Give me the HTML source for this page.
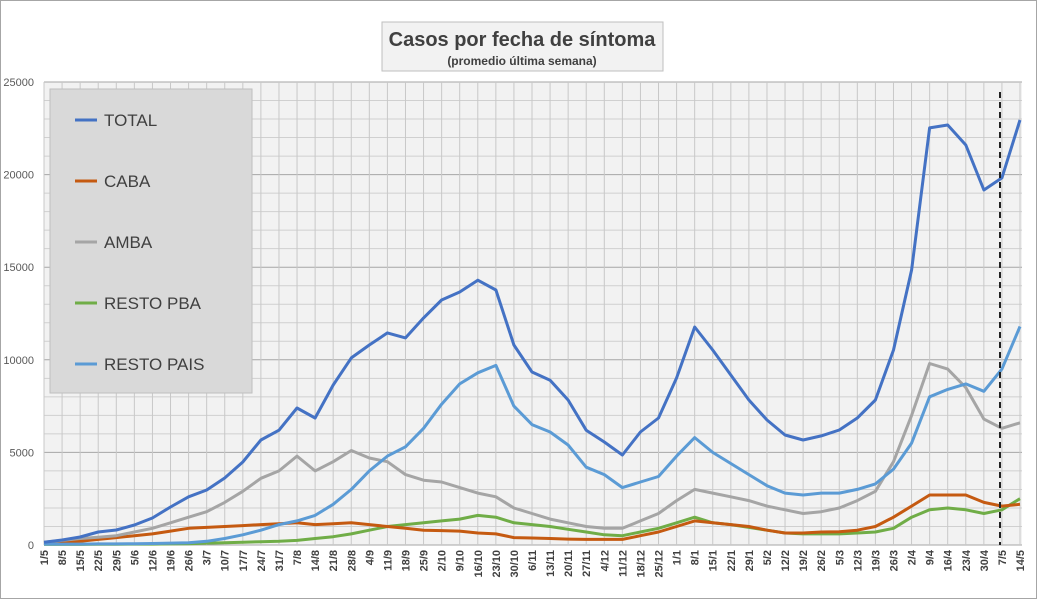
<!DOCTYPE html>
<html><head><meta charset="utf-8"><style>
body{margin:0;background:#fff;font-family:"Liberation Sans",sans-serif}
#wrap{position:relative;width:1037px;height:599px}
</style></head><body>
<div id="wrap">
<svg id="svg" width="1037" height="599" xmlns="http://www.w3.org/2000/svg">
<rect x="0.5" y="0.5" width="1036" height="598" fill="#fff" stroke="#a6a6a6"/>
<rect x="44" y="82" width="978" height="463" fill="#f2f2f2"/>
<g id="grid"></g><g id="axes"></g><g id="series"></g>
<line x1="1000" y1="92" x2="1000" y2="545" stroke="#222" stroke-width="2" stroke-dasharray="6,4"/>
<g>
<rect x="382" y="22" width="281" height="49" fill="#f2f2f2" stroke="#bfbfbf"/>
<text x="522" y="46" text-anchor="middle" font-size="20" font-weight="bold" fill="#404040">Casos por fecha de síntoma</text>
<text x="522" y="65" text-anchor="middle" font-size="12" font-weight="bold" fill="#404040">(promedio última semana)</text>
</g>
<g id="legend">
<rect x="50" y="89" width="202" height="304" fill="#d9d9d9" stroke="#bfbfbf"/>
</g>
</svg>
</div>
<script>
const labels=["1/5","8/5","15/5","22/5","29/5","5/6","12/6","19/6","26/6","3/7","10/7","17/7","24/7","31/7","7/8","14/8","21/8","28/8","4/9","11/9","18/9","25/9","2/10","9/10","16/10","23/10","30/10","6/11","13/11","20/11","27/11","4/12","11/12","18/12","25/12","1/1","8/1","15/1","22/1","29/1","5/2","12/2","19/2","26/2","5/3","12/3","19/3","26/3","2/4","9/4","16/4","23/4","30/4","7/5","14/5"];
const yTicks=[0,5000,10000,15000,20000,25000];
const total=[150,270,430,700,810,1080,1460,2050,2600,2970,3620,4480,5670,6200,7400,6860,8640,10100,10800,11450,11180,12260,13230,13660,14300,13770,10800,9340,8900,7830,6200,5560,4860,6100,6860,9020,11770,10530,9180,7830,6750,5940,5670,5890,6210,6860,7830,10530,14850,22520,22680,21600,19170,19820,22950];
const caba=[100,150,200,300,400,500,600,750,900,950,1000,1050,1100,1150,1200,1100,1150,1200,1100,1000,900,800,780,750,650,600,400,380,350,320,300,300,300,500,700,1000,1300,1200,1100,1000,800,650,650,700,720,800,1000,1500,2100,2700,2700,2700,2300,2100,2200];
const amba=[150,250,350,420,500,700,900,1200,1500,1800,2300,2900,3600,4000,4800,4000,4500,5100,4700,4500,3800,3500,3400,3100,2800,2600,2000,1700,1400,1200,1000,900,900,1300,1700,2400,3000,2800,2600,2400,2100,1900,1700,1800,2000,2400,2900,4500,7000,9800,9500,8500,6800,6300,6600];
const restoPba=[30,30,30,40,40,50,50,60,70,100,120,150,180,200,250,350,450,600,800,1000,1100,1200,1300,1400,1600,1500,1200,1100,1000,850,700,550,500,700,900,1200,1500,1200,1100,950,800,650,600,600,600,650,700,900,1500,1900,2000,1900,1700,1900,2500];
const restoPais=[50,50,50,60,60,70,80,100,120,200,350,550,800,1100,1300,1600,2200,3000,4000,4800,5300,6300,7600,8700,9300,9700,7500,6500,6100,5400,4200,3800,3100,3400,3700,4800,5800,5000,4400,3800,3200,2800,2700,2800,2800,3000,3300,4100,5500,8000,8400,8700,8300,9500,11800];
const seriesNames=["TOTAL","CABA","AMBA","RESTO PBA","RESTO PAIS"];
const seriesColors=["#4472c4","#c55a11","#a5a5a5","#70ad47","#5b9bd5"];
const seriesData=[restoPba,caba,amba,restoPais,total];
const drawOrder=["RESTO PBA","CABA","AMBA","RESTO PAIS","TOTAL"];
const NS="http://www.w3.org/2000/svg";
const X0=44,X1=1020,Y0=545,Y1=82,YMAX=25000;
const xS=i=>X0+(X1-X0)*i/(labels.length-1);
const yS=v=>Y0-(Y0-Y1)*v/YMAX;
function mk(tag,attrs,parent){const e=document.createElementNS(NS,tag);for(const k in attrs)e.setAttribute(k,attrs[k]);parent.appendChild(e);return e;}
const grid=document.getElementById('grid'),axes=document.getElementById('axes'),ser=document.getElementById('series'),leg=document.getElementById('legend');
for(let v=0;v<=YMAX;v+=1000){const l=mk('line',{x1:X0,x2:1022,y1:yS(v),y2:yS(v),stroke:v%5000?'#d0d0d0':'#a6a6a6','stroke-width':1},grid);
}
labels.forEach((lb,i)=>{const x=xS(i);const l=mk('line',{x1:x,x2:x,y1:Y1,y2:Y0,stroke:'#c8c8c8'},grid);

const t=mk('text',{x:0,y:0,transform:`translate(${x+4},${Y0+5}) rotate(-90)`,'text-anchor':'end','font-size':11,'font-weight':'bold',fill:'#404040'},axes);t.textContent=lb;
});
yTicks.forEach(v=>{const t=mk('text',{x:34,y:yS(v)+4,'text-anchor':'end','font-size':11,fill:'#595959'},axes);t.textContent=v;
});
drawOrder.forEach((nm,k)=>{const d=seriesData[k];const c=seriesColors[seriesNames.indexOf(nm)];
const p=mk('polyline',{points:d.map((v,i)=>xS(i).toFixed(1)+','+yS(v).toFixed(1)).join(' '),fill:'none',stroke:c,'stroke-width':3,'stroke-linejoin':'round'},ser);
});
seriesNames.forEach((nm,i)=>{const y=120+i*61;
const l=mk('line',{x1:75,x2:97,y1:y,y2:y,stroke:seriesColors[i],'stroke-width':3},leg);

const t=mk('text',{x:104,y:y+6,'font-size':17,fill:'#404040'},leg);t.textContent=nm;
});
</script>
</body></html>
